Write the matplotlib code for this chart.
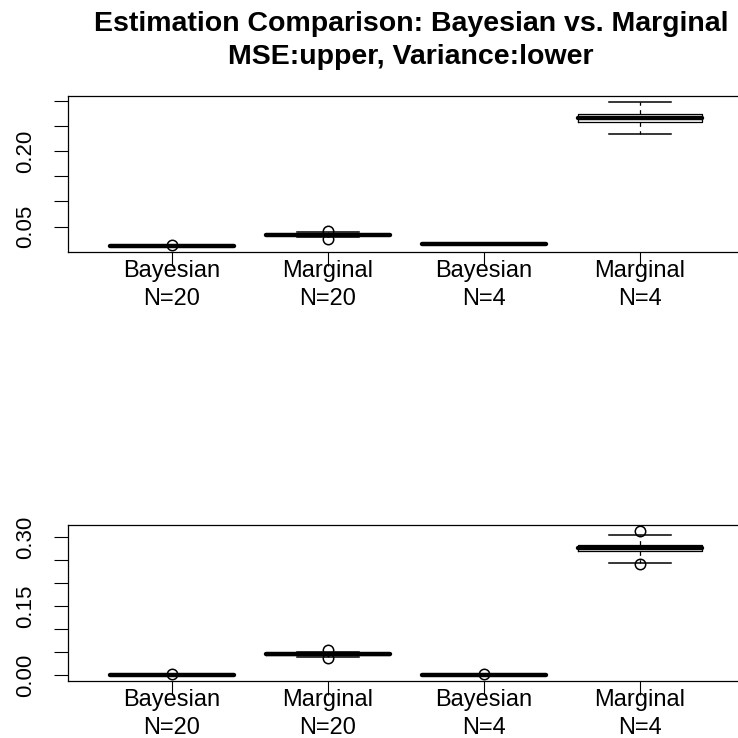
import matplotlib
matplotlib.use("Agg")
import matplotlib.pyplot as plt

plt.rcParams['font.family'] = ['Liberation Sans', 'DejaVu Sans']

groups = ["Bayesian\nN=20", "Marginal\nN=20", "Bayesian\nN=4", "Marginal\nN=4"]

# upper panel: MSE
mse_med = [0.0125, 0.0342, 0.0158, 0.2655]
mse_q1 = [0.0120, 0.0332, 0.0153, 0.2573]
mse_q3 = [0.0130, 0.0352, 0.0163, 0.2737]
mse_lo = [0.0112, 0.0290, 0.0145, 0.2335]
mse_hi = [0.0138, 0.0390, 0.0171, 0.2980]
mse_out = [[0.0145], [0.0415, 0.0265], [], []]

# lower panel: variance
var_med = [0.0008, 0.0455, 0.0012, 0.2760]
var_q1 = [0.0006, 0.0445, 0.0010, 0.2690]
var_q3 = [0.0010, 0.0465, 0.0014, 0.2830]
var_lo = [0.0002, 0.0400, 0.0006, 0.2444]
var_hi = [0.0014, 0.0510, 0.0018, 0.3050]
var_out = [[0.0025], [0.0550, 0.0370], [0.0030], [0.3140, 0.2410]]

mse_ticks = [0.05, 0.10, 0.15, 0.20, 0.25, 0.30]
mse_ticklabels = ["0.05", "", "", "0.20", "", ""]
var_ticks = [0.00, 0.05, 0.10, 0.15, 0.20, 0.25, 0.30]
var_ticklabels = ["0.00", "", "", "0.15", "", "", "0.30"]


def make_stats(med, q1, q3, lo, hi, out):
    stats = []
    for i in range(len(med)):
        stats.append(dict(med=med[i], q1=q1[i], q3=q3[i], whislo=lo[i],
                          whishi=hi[i], fliers=out[i], label=groups[i]))
    return stats


def draw_panel(ax, stats, ticks, ticklabels):
    ax.bxp(stats, positions=[1, 2, 3, 4], widths=0.8, showfliers=True,
           boxprops=dict(color='black', linewidth=0.9),
           whiskerprops=dict(color='black', linewidth=0.9, linestyle=(0, (3.5, 3.5))),
           capprops=dict(color='black', linewidth=1.1),
           medianprops=dict(color='black', linewidth=3.2, solid_capstyle='round'),
           flierprops=dict(marker='o', markersize=7.5, markerfacecolor='none',
                           markeredgecolor='black', markeredgewidth=1.1))
    # R-style range: data extent plus 4% on each side
    vals = []
    for s in stats:
        vals += [s['whislo'], s['whishi']] + list(s['fliers'])
    lo, hi = min(vals), max(vals)
    pad = 0.04 * (hi - lo)
    ax.set_ylim(lo - pad, hi + pad)
    ax.set_xlim(1 - 0.667, 4 + 0.667)
    ax.set_yticks(ticks)
    ax.set_yticklabels(ticklabels)
    ax.set_xticks([1, 2, 3, 4])
    ax.set_xticklabels(groups, linespacing=1.35)
    ax.tick_params(axis='both', direction='out', length=10, width=0.8)
    ax.tick_params(axis='x', labelsize=17, pad=-4.5)
    ax.tick_params(axis='y', labelsize=16, pad=13)
    for t in ax.get_yticklabels():
        t.set_rotation(90)
        t.set_va('center')
    for sp in ax.spines.values():
        sp.set_linewidth(0.9)


fig = plt.figure(figsize=(7.38, 7.38), dpi=100)

ax1 = fig.add_axes([68 / 738, 1 - 252 / 738, 676 / 738, 156 / 738])
draw_panel(ax1, make_stats(mse_med, mse_q1, mse_q3, mse_lo, mse_hi, mse_out),
           mse_ticks, mse_ticklabels)

ax2 = fig.add_axes([68 / 738, 1 - 681 / 738, 676 / 738, 156 / 738])
draw_panel(ax2, make_stats(var_med, var_q1, var_q3, var_lo, var_hi, var_out),
           var_ticks, var_ticklabels)

fig.text(411 / 738, 1 - 31 / 738, "Estimation Comparison: Bayesian vs. Marginal",
         ha='center', va='baseline', fontsize=20.5, fontweight='bold')
fig.text(411 / 738, 1 - 64 / 738, "MSE:upper, Variance:lower",
         ha='center', va='baseline', fontsize=20.5, fontweight='bold')

fig.savefig("out.png", dpi=100)
